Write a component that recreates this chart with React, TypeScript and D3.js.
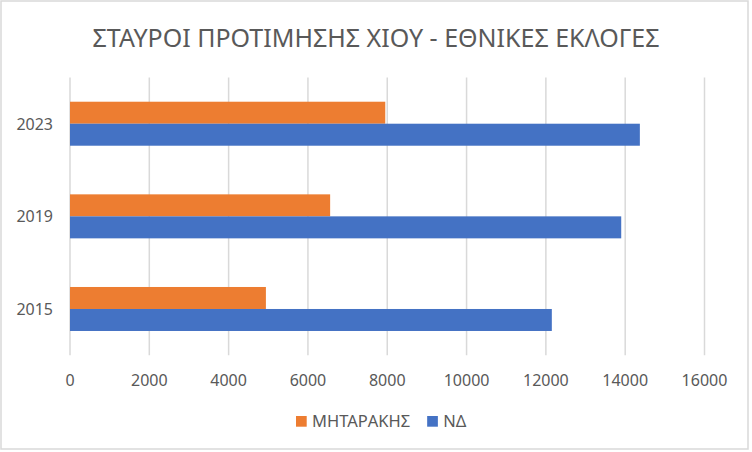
import { useEffect, useRef } from "react";
import * as d3 from "d3";

const years = ["2023", "2019", "2015"];
const seriesNames = ["ΜΗΤΑΡΑΚΗΣ", "ΝΔ"];
const mitarakis = [7950, 6560, 4940];
const nd = [14370, 13900, 12150];
const xTicks = [0, 2000, 4000, 6000, 8000, 10000, 12000, 14000, 16000];
const colors = ["#ED7D31", "#4472C4"];

const W = 752;
const H = 452;
const FONT = "'Noto Sans', 'Open Sans', sans-serif";
const TEXT = "#595959";
const GRID = "#D9D9D9";

export default function App() {
  const svgRef = useRef<SVGSVGElement>(null);

  useEffect(() => {
    if (!svgRef.current) return;
    const svg = d3.select(svgRef.current);
    svg.selectAll("*").remove();

    const plot = { left: 70, right: 704.5, top: 77.4, bottom: 355.3 };

    // chart area border
    svg
      .append("rect")
      .attr("x", 1)
      .attr("y", 1)
      .attr("width", W - 5)
      .attr("height", H - 4)
      .attr("fill", "#fff")
      .attr("stroke", GRID)
      .attr("stroke-width", 1.5);

    svg
      .append("text")
      .attr("x", W / 2)
      .attr("y", 46.5)
      .attr("text-anchor", "middle")
      .attr("font-family", FONT)
      .attr("font-size", "25px")
      .attr("fill", TEXT)
      .text("ΣΤΑΥΡΟΙ ΠΡΟΤΙΜΗΣΗΣ ΧΙΟΥ - ΕΘΝΙΚΕΣ ΕΚΛΟΓΕΣ");

    const x = d3.scaleLinear().domain([0, 16000]).range([plot.left, plot.right]);
    const y = d3
      .scaleBand<string>()
      .domain(years)
      .range([plot.top, plot.bottom])
      .paddingInner(0.525)
      .paddingOuter(0.2625);
    const inner = d3.scaleBand<string>().domain(seriesNames).range([0, y.bandwidth()]);

    // gridlines
    svg
      .append("g")
      .selectAll("line")
      .data(xTicks)
      .join("line")
      .attr("x1", (d) => x(d))
      .attr("x2", (d) => x(d))
      .attr("y1", plot.top)
      .attr("y2", plot.bottom)
      .attr("stroke", GRID)
      .attr("stroke-width", 1.5);

    // x tick labels
    svg
      .append("g")
      .selectAll("text")
      .data(xTicks)
      .join("text")
      .attr("x", (d) => x(d))
      .attr("y", 385.7)
      .attr("text-anchor", "middle")
      .attr("font-family", FONT)
      .attr("font-size", "16px")
      .attr("fill", TEXT)
      .text((d) => String(d));

    // y labels
    svg
      .append("g")
      .selectAll("text")
      .data(years)
      .join("text")
      .attr("x", 53)
      .attr("y", (d) => (y(d) ?? 0) + y.bandwidth() / 2 + 6)
      .attr("text-anchor", "end")
      .attr("font-family", FONT)
      .attr("font-size", "16px")
      .attr("fill", TEXT)
      .text((d) => d);

    const rows = years.map((yr, i) => ({ yr, values: [mitarakis[i], nd[i]] }));

    const groups = svg
      .append("g")
      .selectAll("g")
      .data(rows)
      .join("g")
      .attr("transform", (d) => `translate(0,${y(d.yr)})`);

    groups
      .selectAll("rect")
      .data((d) => d.values.map((v, k) => ({ v, name: seriesNames[k], k })))
      .join("rect")
      .attr("x", x(0))
      .attr("y", (d) => inner(d.name) ?? 0)
      .attr("width", (d) => x(d.v) - x(0))
      .attr("height", inner.bandwidth())
      .attr("fill", (d) => colors[d.k]);

    // legend
    const legend = svg.append("g");
    let lx = 296;
    seriesNames.forEach((name, k) => {
      legend
        .append("rect")
        .attr("x", lx)
        .attr("y", 416)
        .attr("width", 10.7)
        .attr("height", 10.7)
        .attr("fill", colors[k]);
      const t = legend
        .append("text")
        .attr("x", lx + 16)
        .attr("y", 427.3)
        .attr("font-family", FONT)
        .attr("font-size", "16.5px")
        .attr("fill", TEXT)
        .text(name);
      const tw = (t.node() as SVGTextElement).getComputedTextLength();
      lx += 16 + tw + 17;
    });
  }, []);

  return (
    <svg
      ref={svgRef}
      width={W}
      height={H}
      style={{ position: "absolute", left: 0, top: 0, background: "#fff" }}
    />
  );
}
